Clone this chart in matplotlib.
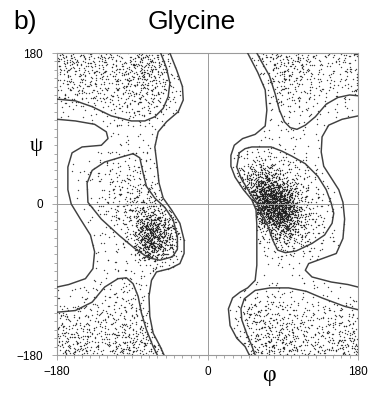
import numpy as np
import matplotlib.pyplot as plt
from matplotlib.path import Path

plt.rcParams['font.family'] = ['Liberation Sans', 'DejaVu Sans']

# dot counts per 20x20 degree cell
# rows go from psi = +180 (top) down to psi = -180, columns from phi = -180 to +180
cell_size = 20
dot_counts = [
    [42, 38, 32, 30, 45, 60, 18, 2, 0, 0, 0, 5, 22, 40, 34, 20, 16, 20],
    [32, 32, 28, 28, 45, 60, 22, 4, 0, 0, 0, 4, 14, 36, 30, 16, 15, 16],
    [24, 24, 24, 24, 32, 38, 22, 5, 0, 0, 0, 0, 5, 26, 20, 12, 10, 12],
    [5, 6, 10, 16, 20, 20, 10, 4, 0, 0, 0, 0, 4, 9, 12, 8, 5, 4],
    [2, 2, 3, 5, 6, 6, 5, 0, 0, 0, 0, 0, 4, 5, 5, 5, 3, 2],
    [2, 2, 3, 5, 6, 6, 4, 0, 0, 0, 0, 3, 8, 8, 5, 4, 3, 2],
    [2, 3, 6, 10, 12, 8, 3, 0, 0, 0, 4, 22, 25, 18, 12, 6, 3, 2],
    [2, 4, 10, 18, 22, 15, 3, 0, 0, 0, 6, 90, 160, 50, 20, 10, 4, 2],
    [2, 3, 10, 22, 32, 30, 10, 0, 0, 0, 4, 80, 380, 260, 40, 15, 4, 2],
    [2, 3, 8, 18, 45, 80, 35, 3, 0, 0, 0, 10, 300, 380, 70, 15, 6, 2],
    [2, 3, 5, 10, 25, 220, 130, 5, 0, 0, 0, 4, 60, 160, 60, 15, 5, 2],
    [2, 3, 4, 5, 15, 230, 100, 5, 0, 0, 0, 4, 8, 25, 20, 10, 5, 2],
    [2, 3, 4, 5, 5, 25, 15, 0, 0, 0, 0, 3, 5, 5, 5, 5, 3, 2],
    [2, 3, 5, 7, 9, 6, 3, 0, 0, 0, 0, 2, 4, 4, 4, 4, 3, 2],
    [4, 6, 10, 16, 16, 8, 3, 0, 0, 0, 3, 12, 12, 10, 7, 5, 5, 5],
    [20, 20, 20, 20, 20, 13, 4, 0, 0, 0, 4, 38, 30, 22, 17, 17, 17, 20],
    [30, 30, 25, 25, 34, 26, 4, 0, 0, 0, 4, 26, 38, 38, 26, 22, 26, 30],
    [46, 38, 30, 34, 50, 38, 7, 0, 0, 0, 4, 22, 46, 46, 34, 26, 34, 46],
]

# contour lines (phi, psi)
outer_left = [(-45, 180), (-37, 160), (-30, 140), (-29, 124), (-35, 110), (-49, 98), (-59, 86),
              (-63, 68), (-60, 44), (-58, 25), (-53, 7), (-43, -7), (-33, -23), (-28, -43),
              (-28, -59), (-33, -71), (-45, -77), (-61, -81), (-67, -91), (-70, -110),
              (-69, -134), (-65, -154), (-57, -169), (-52, -180)]
outer_right = [(48, 180), (60, 157), (69, 136), (71, 112), (69, 93), (57, 83), (42, 78), (32, 70),
               (28, 58), (28, 45), (33, 32), (43, 17), (53, 5), (58, -7), (59, -25), (59, -46),
               (59, -73), (57, -91), (48, -100), (39, -105), (30, -112), (25, -125), (27, -145),
               (35, -160), (45, -170), (50, -180)]
lobe_left = [(-180, 101), (-158, 99), (-135, 95), (-121, 86), (-119, 78), (-127, 70), (-150, 68),
             (-162, 61), (-167, 44), (-167, 17), (-163, 0), (-152, -18), (-140, -37), (-135, -57),
             (-137, -77), (-146, -89), (-166, -96), (-180, -99)]
lobe_right = [(180, 105), (161, 101), (145, 94), (137, 80), (136, 62), (139, 45), (148, 31),
              (157, 17), (162, 2), (164, -18), (162, -41), (154, -59), (132, -67), (121, -71),
              (117, -79), (125, -87), (148, -93), (168, -96), (180, -99)]
inner_topleft = [(-180, 125), (-158, 123), (-138, 116), (-115, 105), (-91, 99), (-75, 99),
                 (-63, 104), (-53, 114), (-47, 128), (-45, 144), (-49, 162), (-56, 180)]
inner_bottomleft = [(-180, -129), (-158, -127), (-138, -117), (-123, -99), (-107, -89), (-97, -88),
                    (-89, -95), (-83, -110), (-79, -130), (-73, -150), (-65, -170), (-60, -180)]
inner_topright = [(59, 180), (65, 169), (74, 153), (81, 131), (86, 112), (92, 98), (99, 91),
                  (107, 89), (117, 94), (129, 104), (142, 119), (156, 127), (170, 130), (180, 129)]
inner_bottomright = [(180, -126), (164, -122), (137, -112), (118, -104), (97, -100), (75, -100),
                     (57, -103), (44, -113), (40, -125), (41, -138), (47, -155), (53, -169), (57, -180)]
alpha_r = [(-89, 60), (-81, 55), (-77, 37), (-73, 21), (-63, 7), (-51, -4), (-41, -19), (-36, -39),
           (-36, -54), (-42, -63), (-57, -67), (-71, -64), (-87, -53), (-105, -38), (-127, -18),
           (-143, 2), (-144, 25), (-138, 40), (-123, 50), (-103, 56), (-89, 60)]
alpha_l = [(38, 61), (45, 66), (53, 68), (65, 68), (76, 68), (89, 63), (101, 57), (117, 48),
           (132, 33), (142, 17), (148, 1), (151, -11), (149, -23), (140, -37), (125, -47),
           (106, -56), (93, -58), (84, -55), (78, -43), (71, -23), (65, -11), (59, 1), (51, 13),
           (41, 29), (35, 44), (38, 61)]

contours = [outer_left, outer_right, lobe_left, lobe_right, inner_topleft, inner_bottomleft,
            inner_topright, inner_bottomright, alpha_r, alpha_l]


def halton(k, base):
    out = np.zeros(len(k))
    f = 1.0 / base
    i = k.copy()
    while np.any(i > 0):
        out += f * (i % base)
        i //= base
        f /= base
    return out


def spread_dots(counts, size):
    # lay the dots of each cell out with a fixed Halton pattern, tent shaped around the cell
    counts = np.array(counts)[::-1]
    xs, ys = [], []
    nrow, ncol = counts.shape
    for r in range(nrow):
        for c in range(ncol):
            n = counts[r, c]
            if n == 0:
                continue
            k = np.arange(1, n + 1) + 1009 * (r * ncol + c) + 17
            cx = -180 + size * (c + 0.5)
            cy = -180 + size * (r + 0.5)
            xs.append(cx + (halton(k, 2) + halton(k, 5) - 1) * size)
            ys.append(cy + (halton(k, 3) + halton(k, 7) - 1) * size)
    x = np.concatenate(xs)
    y = np.concatenate(ys)
    x = (x + 180) % 360 - 180
    y = (y + 180) % 360 - 180
    return x, y


phi, psi = spread_dots(dot_counts, cell_size)

# no dots in the empty areas outside the outer contour
pts = np.column_stack([phi, psi])
empty = Path(outer_left + outer_right[::-1]).contains_points(pts)
empty |= Path(lobe_left).contains_points(pts)
empty |= Path(lobe_right).contains_points(pts)
phi, psi = phi[~empty], psi[~empty]

fig = plt.figure(figsize=(3.73, 3.93), dpi=100)
ax = fig.add_axes([57 / 373, 38 / 393, 301 / 373, 302 / 393])

ax.plot(phi, psi, linestyle='none', marker='o', markersize=1.0, markeredgewidth=0,
        color='#1a1a1a', alpha=0.82, zorder=1)
for line in contours:
    xy = np.array(line)
    ax.plot(xy[:, 0], xy[:, 1], color='#404040', lw=1.05, zorder=3)

ax.axhline(0, color='#9a9a9a', lw=0.7, zorder=2)
ax.axvline(0, color='#9a9a9a', lw=0.7, zorder=2)

ax.set_xlim(-180, 180)
ax.set_ylim(-180, 180)
ax.set_xticks([-180, 0, 180])
ax.set_yticks([-180, 0, 180])
ax.set_xticks(np.arange(-180, 181, 10), minor=True)
ax.set_yticks(np.arange(-180, 181, 10), minor=True)
ax.tick_params(which='both', direction='out', color='#9a9a9a', width=0.6,
               top=False, right=False, labelsize=8.5)
ax.tick_params(axis='x', which='major', length=3.5, pad=4.5)
ax.tick_params(axis='y', which='major', length=3.5, pad=6.5)
ax.tick_params(which='minor', length=2.2)
for s in ax.spines.values():
    s.set_color('#9a9a9a')
    s.set_linewidth(0.8)

fig.text(13 / 373, 1 - 29 / 393, 'b)', fontsize=19, ha='left', va='baseline')
fig.text(192 / 373, 1 - 29 / 393, 'Glycine', fontsize=19, ha='center', va='baseline')
fig.text(36 / 373, 1 - 146 / 393, 'ψ', fontsize=15, ha='center', va='center',
         family=['Liberation Serif', 'DejaVu Serif'])
fig.text(269 / 373, 1 - 375 / 393, 'φ', fontsize=17, ha='center', va='center',
         family=['Liberation Serif', 'DejaVu Serif'])

fig.savefig('out.png', dpi=100)
